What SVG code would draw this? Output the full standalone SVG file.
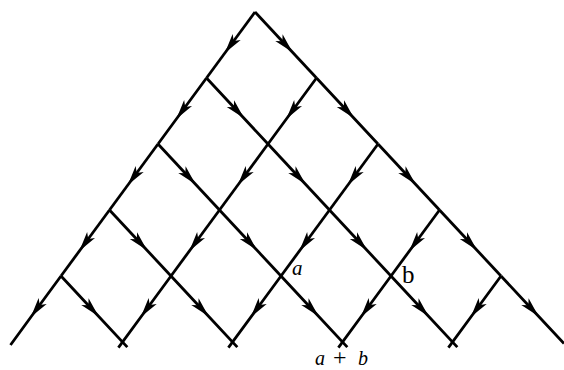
<svg xmlns="http://www.w3.org/2000/svg" width="564" height="370" viewBox="0 0 564 370">
<style>
.e{fill:none;stroke:#000;stroke-width:2.8;stroke-linecap:butt;marker-mid:url(#arr)}
.t{font-family:"Liberation Serif","DejaVu Serif",serif;fill:#000}
.i{font-style:italic}
</style>
<defs>
<marker id="arr" markerUnits="userSpaceOnUse" viewBox="0 0 20 11" markerWidth="20" markerHeight="11" refX="10" refY="5.5" orient="auto">
<path d="M0,0.5 L20,5.5 L0,10.5 L5,5.5 Z" fill="#000"/>
</marker>
</defs>
<rect width="564" height="370" fill="#fff"/>
<g id="connectors">
<polyline class="e" points="255,12 230.75,45 206.5,78"/>
<polyline class="e" points="255,12 285.75,45 316.5,78"/>
<polyline class="e" points="206.5,78 182.25,111 158,144"/>
<polyline class="e" points="206.5,78 237.25,111 268,144"/>
<polyline class="e" points="316.5,78 292.25,111 268,144"/>
<polyline class="e" points="316.5,78 347.25,111 378,144"/>
<polyline class="e" points="158,144 133.75,177 109.5,210"/>
<polyline class="e" points="158,144 188.75,177 219.5,210"/>
<polyline class="e" points="268,144 243.75,177 219.5,210"/>
<polyline class="e" points="268,144 298.75,177 329.5,210"/>
<polyline class="e" points="378,144 353.75,177 329.5,210"/>
<polyline class="e" points="378,144 408.75,177 439.5,210"/>
<polyline class="e" points="109.5,210 85.25,243 61,276"/>
<polyline class="e" points="109.5,210 140.25,243 171,276"/>
<polyline class="e" points="219.5,210 195.25,243 171,276"/>
<polyline class="e" points="219.5,210 250.25,243 281,276"/>
<polyline class="e" points="329.5,210 305.25,243 281,276"/>
<polyline class="e" points="329.5,210 360.25,243 391,276"/>
<polyline class="e" points="439.5,210 415.25,243 391,276"/>
<polyline class="e" points="439.5,210 470.25,243 501,276"/>
<polyline class="e" points="61,276 36.75,309 10.5,345"/>
<polyline class="e" points="61,276 91.75,309 127.3,347.1"/>
<polyline class="e" points="171,276 146.75,309 118.4,347.6"/>
<polyline class="e" points="171,276 201.75,309 237.3,347.1"/>
<polyline class="e" points="281,276 256.75,309 228.4,347.6"/>
<polyline class="e" points="281,276 311.75,309 347.3,347.1"/>
<polyline class="e" points="391,276 366.75,309 338.4,347.6"/>
<polyline class="e" points="391,276 421.75,309 457.3,347.1"/>
<polyline class="e" points="501,276 476.75,309 448.4,347.6"/>
<polyline class="e" points="501,276 531.75,309 564,343.6"/>
</g>
<g id="label-a"><text class="t i" x="292" y="275" font-size="21">a</text></g>
<g id="label-b"><text class="t" x="402" y="283" font-size="25">b</text></g>
<g id="label-sum"><text class="t" y="365" font-size="20"><tspan class="i" x="315">a</tspan><tspan x="333" font-size="24">+</tspan><tspan class="i" x="358">b</tspan></text></g>
</svg>
